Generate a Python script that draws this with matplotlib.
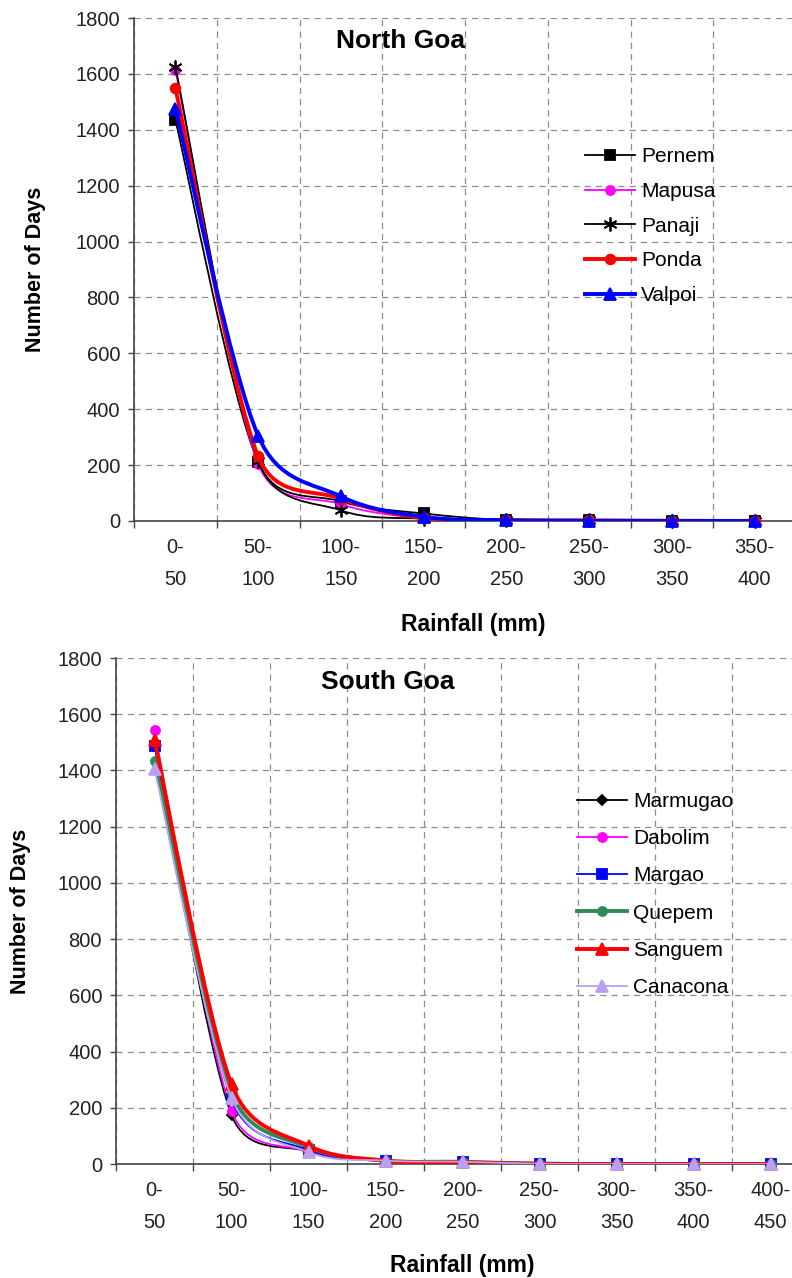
import matplotlib
matplotlib.use("Agg")
import numpy as np
import matplotlib.pyplot as plt
from matplotlib.path import Path
from matplotlib.patches import PathPatch
from matplotlib.lines import Line2D

plt.rcParams['font.family'] = ['Liberation Sans', 'DejaVu Sans']

# North Goa
north_cats = ['0-\n50', '50-\n100', '100-\n150', '150-\n200', '200-\n250',
              '250-\n300', '300-\n350', '350-\n400']
pernem = [1435, 210, 70, 27, 3, 3, 1, 0]
mapusa = [1615, 205, 60, 10, 3, 2, 1, 0]
panaji = [1625, 215, 38, 8, 2, 2, 1, 0]
ponda = [1548, 232, 80, 10, 3, 2, 1, 0]
valpoi = [1475, 305, 88, 15, 3, 1, 0, 0]

# South Goa
south_cats = ['0-\n50', '50-\n100', '100-\n150', '150-\n200', '200-\n250',
              '250-\n300', '300-\n350', '350-\n400', '400-\n450']
marmugao = [1490, 175, 45, 12, 8, 1, 0, 0, 0]
dabolim = [1543, 190, 45, 10, 8, 1, 0, 0, 0]
margao = [1487, 230, 50, 12, 8, 1, 0, 0, 0]
quepem = [1433, 253, 60, 12, 8, 1, 0, 0, 0]
sanguem = [1507, 283, 65, 12, 6, 1, 0, 0, 0]
canacona = [1406, 235, 42, 12, 8, 1, 0, 0, 0]

north_series = [
    ('Pernem', pernem, 'black', 's', 6.5, 1.3),
    ('Mapusa', mapusa, '#ff00ff', 'o', 6.5, 1.3),
    ('Panaji', panaji, 'black', (6, 2, 0), 10, 1.3),
    ('Ponda', ponda, '#ff0000', 'o', 7, 2.8),
    ('Valpoi', valpoi, '#0000ff', '^', 8, 2.8),
]
south_series = [
    ('Marmugao', marmugao, 'black', 'D', 5.5, 1.3),
    ('Dabolim', dabolim, '#ff00ff', 'o', 6.5, 1.3),
    ('Margao', margao, '#0000ff', 's', 6.5, 1.3),
    ('Quepem', quepem, '#2e8b57', 'o', 6.5, 2.8),
    ('Sanguem', sanguem, '#ff0000', '^', 8, 2.8),
    ('Canacona', canacona, '#b9a0f2', '^', 8, 1.3),
]


def smooth_path(ax, xs, ys):
    # excel style smoothing: bezier arms of 1/6, capped at half the segment (in pixels)
    pts = ax.transData.transform(np.column_stack([xs, ys]))
    n = len(pts)
    verts = [pts[0]]
    codes = [Path.MOVETO]
    for i in range(n - 1):
        p0 = pts[i - 1] if i > 0 else pts[i]
        p1 = pts[i]
        p2 = pts[i + 1]
        p3 = pts[i + 2] if i + 2 < n else pts[i + 1]
        d12 = np.hypot(*(p2 - p1))
        d02 = np.hypot(*(p2 - p0))
        d13 = np.hypot(*(p3 - p1))
        f0 = 1 / 6
        f1 = 1 / 6
        if d02 / 6 > d12 / 2:
            f0 = d12 / 2 / d02
        if d13 / 6 > d12 / 2:
            f1 = d12 / 2 / d13
        c1 = p1 + f0 * (p2 - p0)
        c2 = p2 - f1 * (p3 - p1)
        verts += [c1, c2, p2]
        codes += [Path.CURVE4] * 3
    verts = ax.transData.inverted().transform(np.array(verts))
    return Path(verts, codes)


def draw_panel(ax, cats, series, title, title_xy, legend_anchor, label_spacing,
               ylab_x, xlab_xy):
    n = len(cats)
    xs = list(range(n))
    ax.set_xlim(-0.5, n - 0.5)
    ax.set_ylim(0, 1800)
    handles = []
    for k, (name, vals, color, mk, ms, lw) in enumerate(series):
        patch = PathPatch(smooth_path(ax, xs, vals), facecolor='none', edgecolor=color,
                          lw=lw, zorder=3 + k, joinstyle='round', capstyle='round')
        ax.add_patch(patch)
        ax.plot(xs, vals, linestyle='none', marker=mk, color=color, ms=ms,
                mec=color, mew=1.3, zorder=3 + k, clip_on=False)
        handles.append(Line2D([], [], color=color, lw=lw, marker=mk, ms=ms, mew=1.3))

    ax.set_yticks(range(0, 1801, 200))
    ax.set_xticks(xs)
    ax.set_xticklabels(cats, linespacing=1.9)
    ax.set_xticks([i + 0.5 for i in range(-1, n)], minor=True)
    ax.tick_params(axis='x', which='major', length=0, pad=12, labelsize=14.5, colors='#222222')
    ax.tick_params(axis='x', which='minor', length=5, width=1, color='#444444', direction='out')
    ax.tick_params(axis='y', length=4, width=1, color='#444444', pad=6, labelsize=14.5,
                   colors='#222222', direction='out')
    ax.grid(True, axis='y', which='major', linestyle=(0, (5, 4)), color='#8c8c8c', lw=0.9)
    ax.grid(True, axis='x', which='minor', linestyle=(0, (5, 4)), color='#8c8c8c', lw=0.9)
    ax.set_axisbelow(True)
    for s in ['top', 'right']:
        ax.spines[s].set_visible(False)
    for s in ['left', 'bottom']:
        ax.spines[s].set_color('#444444')
        ax.spines[s].set_linewidth(1.2)
        ax.spines[s].set_zorder(2.5)

    ax.text(title_xy[0], title_xy[1], title, transform=ax.transAxes, ha='center',
            va='center', fontsize=19, fontweight='bold')
    ax.set_ylabel('Number of Days', fontsize=15.5, fontweight='bold')
    ax.yaxis.set_label_coords(ylab_x, 0.5)
    ax.set_xlabel('Rainfall (mm)', fontsize=16.5, fontweight='bold')
    ax.xaxis.set_label_coords(xlab_xy[0], xlab_xy[1])

    ax.legend(handles, [s[0] for s in series], loc='upper left',
              bbox_to_anchor=legend_anchor, bbox_transform=fig.transFigure,
              frameon=False, fontsize=15, handlelength=2.4, handletextpad=0.3,
              labelspacing=label_spacing, borderpad=0, borderaxespad=0)


fig = plt.figure(figsize=(7.92, 12.78), dpi=100)
W, H = 792.0, 1278.0

ax1 = fig.add_axes([134 / W, (H - 521) / H, 662 / W, 503 / H])
draw_panel(ax1, north_cats, north_series, 'North Goa', (0.403, 0.955),
           (585 / W, 1 - 147 / H), 0.76, -0.133, (0.512, -0.183))

ax2 = fig.add_axes([116 / W, (H - 1164) / H, 693 / W, 506 / H])
draw_panel(ax2, south_cats, south_series, 'South Goa', (0.392, 0.952),
           (577 / W, 1 - 792 / H), 0.875, -0.122, (0.5, -0.178))

fig.savefig('out.png', dpi=100)
